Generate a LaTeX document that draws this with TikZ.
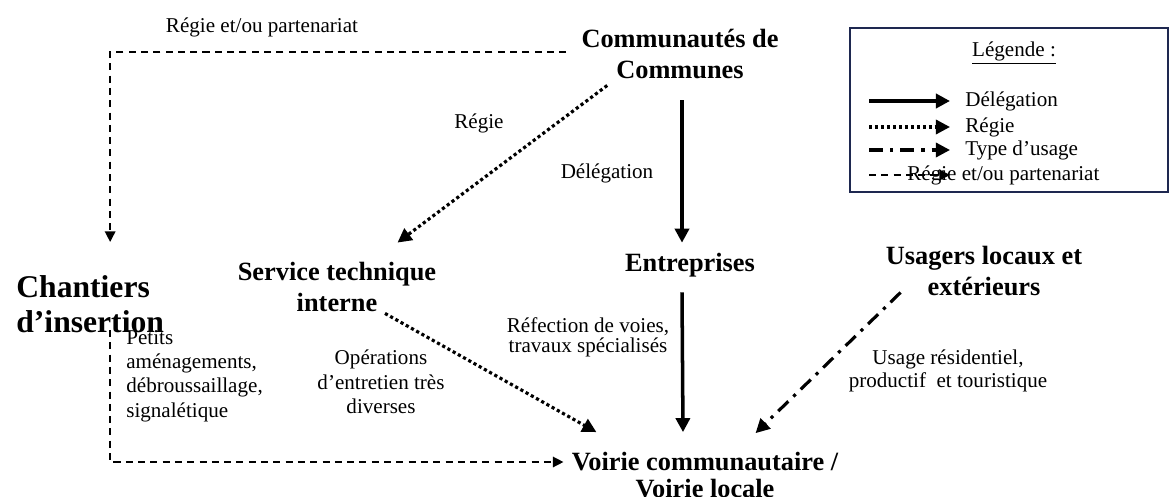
\documentclass[tikz,border=0pt]{standalone}
\usepackage{fontspec}
\setmainfont{Liberation Serif}
\usetikzlibrary{arrows.meta,calc}
\definecolor{legendblue}{RGB}{30,40,80}
\tikzset{head/.style = {
    font = \fontsize{15}{18}\selectfont\bfseries,
    align = center,
    inner sep = 0pt
}}
\tikzset{lbl/.style = {
    font = \fontsize{12}{14}\selectfont,
    align = center,
    inner sep = 0pt
}}
\tikzset{delegarrow/.style = {
    line width = 2pt,
    -{Triangle[length = 8pt, width = 8pt]}
}}
\tikzset{regiearrow/.style = {
    line width = 1.8pt,
    dash pattern = on 1.8pt off 1.6pt,
    -{Triangle[length = 8pt, width = 8pt]}
}}
\tikzset{usagearrow/.style = {
    line width = 1.8pt,
    dash pattern = on 8pt off 4pt on 1.8pt off 4pt,
    -{Triangle[length = 8pt, width = 8pt]}
}}
\tikzset{partnerarrow/.style = {
    line width = 0.8pt,
    dash pattern = on 4pt off 3pt,
    -{Triangle[length = 6pt, width = 6pt]}
}}

\begin{document}
\begin{tikzpicture}[x = 0.02cm, y = -0.02cm]
    \useasboundingbox 
        (0, 0) rectangle (1171, 497)
    ;

    % Nodes
    \node [head] (comm) at (680, 54) {Communautés de\\Communes};
    \node [head] (serv) at (337, 287) {Service technique\\interne};
    \node [head] (entr) at (690, 265) {Entreprises};
    \node [head] (usag) at (984, 271) {Usagers locaux et\\extérieurs};
    \node [head, font = \fontsize{15}{15}\selectfont\bfseries] 
        (voirie) at (705, 475) {Voirie communautaire /\\Voirie locale};
    \node [head, font = \fontsize{18}{20}\selectfont\bfseries, align = left, anchor = west] 
        (chant) at (16, 304) {Chantiers\\d’insertion};

    % Labels
    \node [lbl] (lpart) at (262, 27) {Régie et/ou partenariat};
    \node [lbl] (lregie) at (479, 123) {Régie};
    \node [lbl] (ldeleg) at (607, 173) {Délégation};
    \node [lbl, font = \fontsize{12}{11.5}\selectfont] 
        (lrefec) at (588, 337) {Réfection de voies,\\travaux spécialisés};
    \node [lbl] (loper) at (381, 382) {Opérations\\d’entretien très\\diverses};
    \node [lbl, font = \fontsize{12}{13.8}\selectfont, align = left, anchor = west] 
        (lpetits) at (126, 376) {Petits\\aménagements,\\débroussaillage,\\signalétique};
    \node [lbl, font = \fontsize{12}{13}\selectfont] 
        (lusage) at (948, 371) {Usage résidentiel,\\productif~ et touristique};

    % Arrows
    \draw 
        [partnerarrow] 
        ($(comm.west) + (-15, -2)$) -| ($(chant.north) + (20, -33)$)
    ;
    \draw 
        [regiearrow] 
        ($(comm.south west) + (26, 6)$) -- ($(serv.north east) + (-39, -19)$)
    ;
    \draw 
        [delegarrow] 
        ($(comm.south) + (2, 21)$) -- ($(entr.north) + (-8, -10)$)
    ;
    \draw 
        [delegarrow] 
        ($(entr.south) + (-8, 15)$) -- ($(voirie.north) + (-22, -20)$)
    ;
    \draw 
        [regiearrow] 
        ($(serv.south) + (48, 1)$) -- ($(voirie.north west) + (25, -20)$)
    ;
    \draw 
        [usagearrow] 
        ($(usag.south west) + (15, -4)$) -- ($(voirie.north east) + (-83, -19)$)
    ;
    \draw 
        [partnerarrow] 
        ($(chant.south) + (20, -3)$) |- ($(voirie.west) + (-8, -13)$)
    ;

    % Legend
    \draw 
        [legendblue, line width = 0.6pt] 
        (850, 28) rectangle (1168, 192)
    ;
    \node [lbl] (legtitle) at (1014, 53) {\underline{Légende :}};
    \node [lbl, anchor = west] (leg1) at (965, 101) {Délégation};
    \node [lbl, anchor = west] (leg2) at (965, 127) {Régie};
    \node [lbl, anchor = west] (leg3) at (965, 150) {Type d’usage};
    \draw 
        [delegarrow] 
        ($(leg1.west) + (-96, 0)$) -- ($(leg1.west) + (-15, 0)$)
    ;
    \draw 
        [regiearrow] 
        ($(leg2.west) + (-96, 0)$) -- ($(leg2.west) + (-15, 0)$)
    ;
    \draw 
        [usagearrow] 
        ($(leg3.west) + (-96, 0)$) -- ($(leg3.west) + (-15, 0)$)
    ;
    \draw 
        [partnerarrow] 
        (869, 175) -- (950, 175)
    ;
    \node [lbl, anchor = west] (leg4) at (907, 175) {Régie et/ou partenariat};

\end{tikzpicture}
\end{document}
